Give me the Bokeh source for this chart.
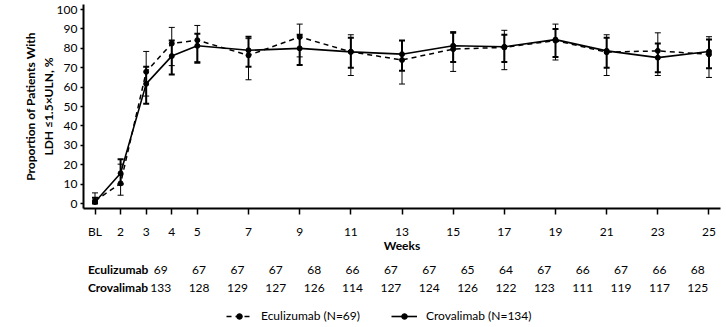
from bokeh.plotting import figure
from bokeh.models import (Range1d, FixedTicker, Whisker, ColumnDataSource, TeeHead,
                          Legend, LegendItem)
from bokeh.layouts import column
from bokeh.core.properties import value
from bokeh.embed import file_html
from bokeh.resources import INLINE

# ---------------- data ----------------
week_labels = ["BL", "2", "3", "4", "5", "7", "9", "11", "13", "15", "17", "19", "21", "23", "25"]
week_pos = [1, 2, 3, 4, 5, 7, 9, 11, 13, 15, 17, 19, 21, 23, 25]

ecu_mean = [1.4, 10.4, 67.9, 82.5, 84.2, 76.4, 85.9, 78.2, 74.0, 79.6, 80.5, 84.0, 78.0, 78.7, 76.9]
ecu_low = [0.0, 4.3, 55.4, 71.1, 73.1, 63.8, 75.6, 66.0, 61.6, 68.1, 69.0, 74.0, 66.0, 66.0, 65.0]
ecu_high = [5.5, 20.3, 78.4, 90.8, 91.8, 85.0, 92.5, 87.0, 84.0, 88.6, 89.3, 92.5, 87.0, 88.0, 86.0]

cro_mean = [0.8, 15.6, 61.7, 76.0, 81.3, 79.0, 80.0, 78.2, 77.0, 81.3, 80.8, 84.5, 78.7, 75.2, 78.4]
cro_low = [0.0, 10.0, 51.5, 66.5, 72.6, 70.5, 71.4, 70.0, 68.5, 73.0, 73.0, 75.5, 70.0, 67.7, 69.7]
cro_high = [3.0, 22.8, 70.5, 84.0, 87.5, 86.0, 87.0, 85.5, 84.0, 88.0, 87.0, 90.0, 85.5, 82.5, 84.5]

ecu_n = [69, 67, 67, 67, 68, 66, 67, 67, 65, 64, 67, 66, 67, 66, 68]
cro_n = [133, 128, 129, 127, 126, 114, 127, 124, 126, 122, 123, 111, 119, 117, 125]

y_ticks = list(range(0, 101, 10))

FONT = "Lato"

# ---------------- main chart ----------------
p = figure(width=726, height=255, output_backend="svg", toolbar_location=None,
           x_range=Range1d(0.55, 25.45), y_range=Range1d(-2.55, 102.6),
           min_border_left=83, min_border_right=6, min_border_top=4, min_border_bottom=45)
p.outline_line_color = None
p.grid.visible = False
p.background_fill_color = "white"

src_e = ColumnDataSource(dict(x=week_pos, y=ecu_mean, lo=ecu_low, hi=ecu_high))
src_c = ColumnDataSource(dict(x=week_pos, y=cro_mean, lo=cro_low, hi=cro_high))

we = Whisker(source=src_e, base="x", lower="lo", upper="hi", line_color="black", line_width=1,
             upper_head=TeeHead(size=6, line_color="black", line_width=1),
             lower_head=TeeHead(size=6, line_color="black", line_width=1))
wc = Whisker(source=src_c, base="x", lower="lo", upper="hi", line_color="black", line_width=2,
             upper_head=TeeHead(size=6, line_color="black", line_width=2),
             lower_head=TeeHead(size=6, line_color="black", line_width=2))
p.add_layout(we)
p.add_layout(wc)

p.line("x", "y", source=src_e, line_color="black", line_width=1.5, line_dash="5 4")
p.scatter("x", "y", source=src_e, size=5, color="black")
p.line("x", "y", source=src_c, line_color="black", line_width=1.6)
p.scatter("x", "y", source=src_c, size=5, color="black")

p.xaxis.ticker = FixedTicker(ticks=week_pos)
p.xaxis.major_label_overrides = {wp: lab for wp, lab in zip(week_pos, week_labels)}
p.xaxis.axis_label = "Weeks"
p.yaxis.ticker = FixedTicker(ticks=y_ticks)
p.yaxis.axis_label = "Proportion of Patients With\nLDH \u22641.5\u00d7ULN, %"

for ax in (p.xaxis, p.yaxis):
    ax.axis_line_width = 2
    ax.axis_line_color = "black"
    ax.major_tick_line_color = "black"
    ax.major_tick_line_width = 1.5
    ax.minor_tick_line_color = None
    ax.major_tick_in = 0
    ax.major_label_text_font = FONT
    ax.major_label_text_font_size = "12px"
    ax.major_label_text_color = "black"
    ax.axis_label_text_font = FONT
    ax.axis_label_text_font_size = "12px"
    ax.axis_label_text_font_style = "bold"
    ax.axis_label_text_color = "black"
p.xaxis.major_tick_out = 6
p.xaxis.major_label_standoff = 9
p.xaxis.axis_label_standoff = -4
p.yaxis.major_tick_out = 3
p.yaxis.major_label_standoff = 3
p.yaxis.axis_label_standoff = -2

# ---------------- at-risk table and legend ----------------
t = figure(width=726, height=72, output_backend="svg", toolbar_location=None,
           x_range=Range1d(0, 726), y_range=Range1d(72, 0),
           min_border=0, min_border_left=0, min_border_right=0, min_border_top=0, min_border_bottom=0)
t.axis.visible = False
t.grid.visible = False
t.outline_line_color = None

col0, col_step = 88, 43.72
xs = [col0 + i * col_step for i in range(len(ecu_n))]
row_e, row_c = 14, 32
t.text(x=xs, y=[row_e] * len(xs), text=[str(v) for v in ecu_n], text_font=value(FONT),
       text_font_size="12px", text_align="center", text_baseline="middle", text_color="black")
t.text(x=xs, y=[row_c] * len(xs), text=[str(v) for v in cro_n], text_font=value(FONT),
       text_font_size="12px", text_align="center", text_baseline="middle", text_color="black")
t.text(x=[5, 5], y=[row_e, row_c], text=["Eculizumab", "Crovalimab"], text_font=value(FONT),
       text_font_size="12px", text_font_style="bold", text_align="left", text_baseline="middle",
       text_color="black")

# legend swatches (drawn off-frame so only the legend shows them)
le = t.line(x=[-50, -40], y=[-50, -50], line_color="black", line_width=1.5, line_dash="5 4")
se = t.scatter(x=[-50], y=[-50], size=5, color="black")
lc = t.line(x=[-50, -40], y=[-50, -50], line_color="black", line_width=1.6)
sc = t.scatter(x=[-50], y=[-50], size=5, color="black")
leg = Legend(items=[LegendItem(label="Eculizumab (N=69)", renderers=[le, se]),
                    LegendItem(label="Crovalimab (N=134)", renderers=[lc, sc])],
             orientation="horizontal", location=(143, 4), glyph_width=26, glyph_height=14,
             label_standoff=9, spacing=31, padding=0, margin=0, border_line_color=None,
             background_fill_alpha=0, label_text_font=FONT, label_text_font_size="12px",
             label_text_color="black", label_height=14)
t.add_layout(leg, "center")

layout = column(p, t, spacing=0)
open("out.html", "w").write(file_html(layout, INLINE))
